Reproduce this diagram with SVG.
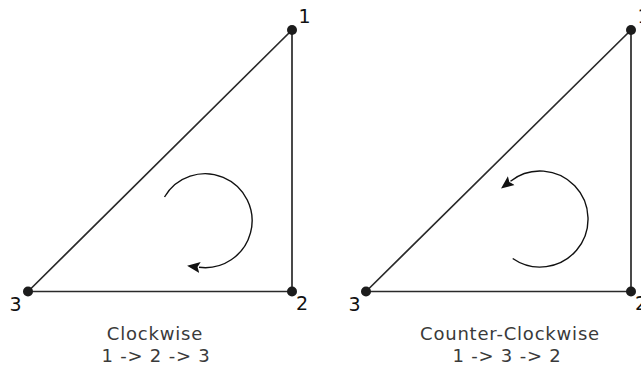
<svg xmlns="http://www.w3.org/2000/svg" width="641" height="369" viewBox="0 0 641 369">
  <style>
    .edge { stroke: #2a2a2a; stroke-width: 1.7; fill: none; stroke-linecap: round; }
    .arc { stroke: #111; stroke-width: 1.4; fill: none; }
    .dot { fill: #1c1c1c; }
    .lbl { font-family: "DejaVu Sans", sans-serif; font-size: 19px; fill: #111; }
    .cap { font-family: "DejaVu Sans", sans-serif; font-size: 18px; fill: #3a3a3a; letter-spacing: 0.8px; text-anchor: middle; }
  </style>
  <defs>
    <marker id="arrow" markerUnits="userSpaceOnUse" markerWidth="16" markerHeight="14" refX="1" refY="6" orient="auto" viewBox="0 0 16 12">
      <path d="M0,0.5 L13,6 L0,11.5 L2.5,6 z" fill="#111"/>
    </marker>
  </defs>
  <rect width="641" height="369" fill="#ffffff"/>

  <g id="connectors">
    <line class="edge" x1="292" y1="30" x2="292" y2="291.5"/>
    <line class="edge" x1="292" y1="291.5" x2="28" y2="291.5"/>
    <line class="edge" x1="28" y1="291.5" x2="292" y2="30"/>
    <path class="arc" d="M164.5,197 A47,47 0 1 1 199,267.3" marker-end="url(#arrow)"/>

    <line class="edge" x1="631" y1="30" x2="631" y2="291.5"/>
    <line class="edge" x1="631" y1="291.5" x2="366" y2="291.5"/>
    <line class="edge" x1="366" y1="291.5" x2="631" y2="30"/>
    <path class="arc" d="M512.7,258.5 A48,48 0 1 0 510.5,181.2" marker-end="url(#arrow)"/>
  </g>

  <g id="left-v1"><circle class="dot" cx="292" cy="30" r="5"/><text class="lbl" x="298.5" y="23">1</text></g>
  <g id="left-v2"><circle class="dot" cx="292" cy="291.5" r="5"/><text class="lbl" x="296" y="310">2</text></g>
  <g id="left-v3"><circle class="dot" cx="28" cy="291.5" r="5"/><text class="lbl" x="9.5" y="311">3</text></g>

  <g id="right-v1"><circle class="dot" cx="631" cy="30" r="5"/><text class="lbl" x="637.5" y="23">1</text></g>
  <g id="right-v2"><circle class="dot" cx="631" cy="291.5" r="5"/><text class="lbl" x="635" y="310">2</text></g>
  <g id="right-v3"><circle class="dot" cx="366" cy="291.5" r="5"/><text class="lbl" x="348.5" y="311">3</text></g>

  <g id="captions">
    <text class="cap" x="155" y="340">Clockwise</text>
    <text class="cap" x="156" y="362">1 -&gt; 2 -&gt; 3</text>
    <text class="cap" x="510" y="340">Counter-Clockwise</text>
    <text class="cap" x="507" y="362">1 -&gt; 3 -&gt; 2</text>
  </g>
</svg>
